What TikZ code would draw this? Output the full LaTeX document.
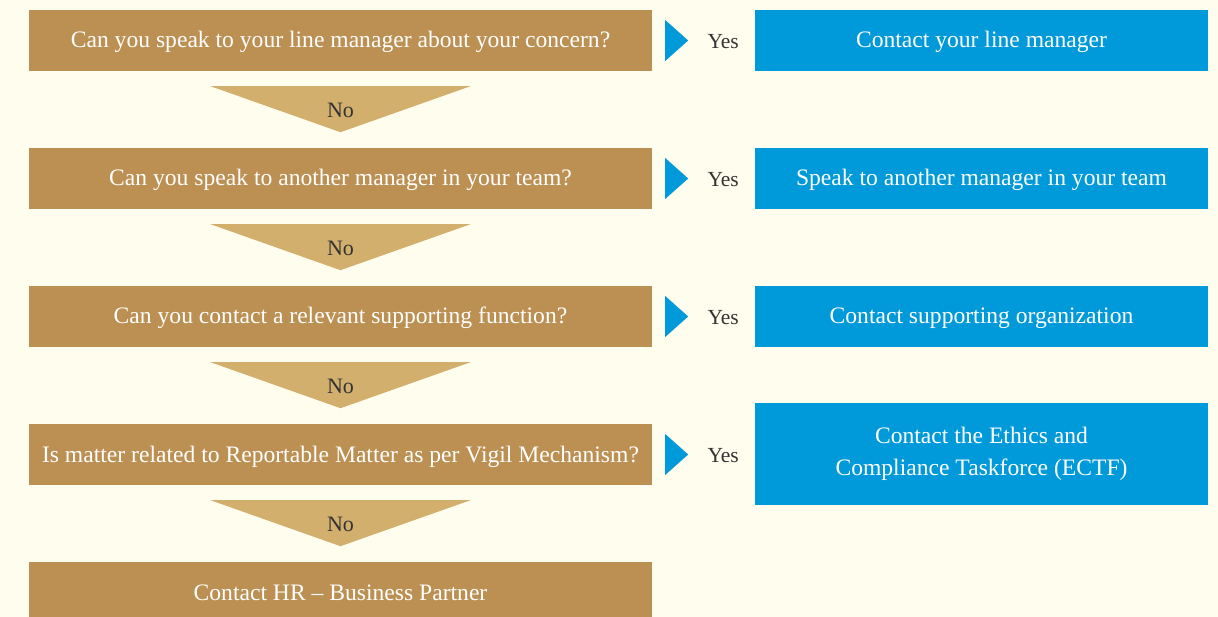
\documentclass[tikz,border=0pt]{standalone}
\usepackage{fontspec}
\setmainfont{Liberation Serif}
\usetikzlibrary{calc}
\definecolor{bgcream}{HTML}{FFFDEE}
\definecolor{qbrown}{HTML}{BC9053}
\definecolor{nogold}{HTML}{D3AF6E}
\definecolor{ansblue}{HTML}{0099D9}
\definecolor{darktext}{HTML}{333333}
\begin{document}
\begin{tikzpicture}[
	x=1pt,y=-1pt,
	question/.style={fill=qbrown,text=white,minimum width=623pt,minimum height=61pt,inner sep=0pt,text height=20pt,text depth=5pt,font=\fontsize{23.6}{28}\selectfont},
	answer/.style={fill=ansblue,text=white,minimum width=453pt,minimum height=61pt,inner sep=0pt,align=center,font=\fontsize{23.6}{32}\selectfont},
	nolabel/.style={text=darktext,font=\fontsize{22}{26}\selectfont},
	yeslabel/.style={text=darktext,font=\fontsize{21.5}{26}\selectfont}
	]
	
	\fill[bgcream] (0,0) rectangle (1218,617);
	\useasboundingbox (0,0) rectangle (1218,617);
	\clip (0,0) rectangle (1218,617);
	
	\node[question] (q1) at (340.5,40.5) {Can you speak to your line manager about your concern?};
	\node[question] (q2) at (340.5,178.5) {Can you speak to another manager in your team?};
	\node[question] (q3) at (340.5,316.5) {Can you contact a relevant supporting function?};
	\node[question] (q4) at (340.5,454.5) {Is matter related to Reportable Matter as per Vigil Mechanism?};
	\node[question] (q5) at (340.5,592.5) {Contact HR -- Business Partner};
	
	\node[answer,text height=20pt,text depth=5pt] (a1) at (981.5,40.5) {Contact your line manager};
	\node[answer,text height=20pt,text depth=5pt] (a2) at (981.5,178.5) {Speak to another manager in your team};
	\node[answer,text height=20pt,text depth=5pt] (a3) at (981.5,316.5) {Contact supporting organization};
	\node[answer,minimum height=102pt] (a4) at (981.5,454) {Contact the Ethics and\\Compliance Taskforce (ECTF)};
	
	\foreach \i/\j in {1/2,2/3,3/4,4/5}{
		\fill[nogold] ($(q\i.south)+(-130,15)$) -- ($(q\i.south)+(130,15)$) -- ($(q\i.south)+(0,61)$) -- cycle;
		\node[nolabel] (no\i) at ($(q\i.south)+(0,39)$) {No};
	}
	
	\foreach \i in {1,...,4}{
		\fill[ansblue] ($(q\i.east)+(13,-20.5)$) -- ($(q\i.east)+(36,0)$) -- ($(q\i.east)+(13,20.5)$) -- cycle;
		\node[yeslabel] (yes\i) at ($(q\i.east)+(71,1)$) {Yes};
	}
\end{tikzpicture}
\end{document}
